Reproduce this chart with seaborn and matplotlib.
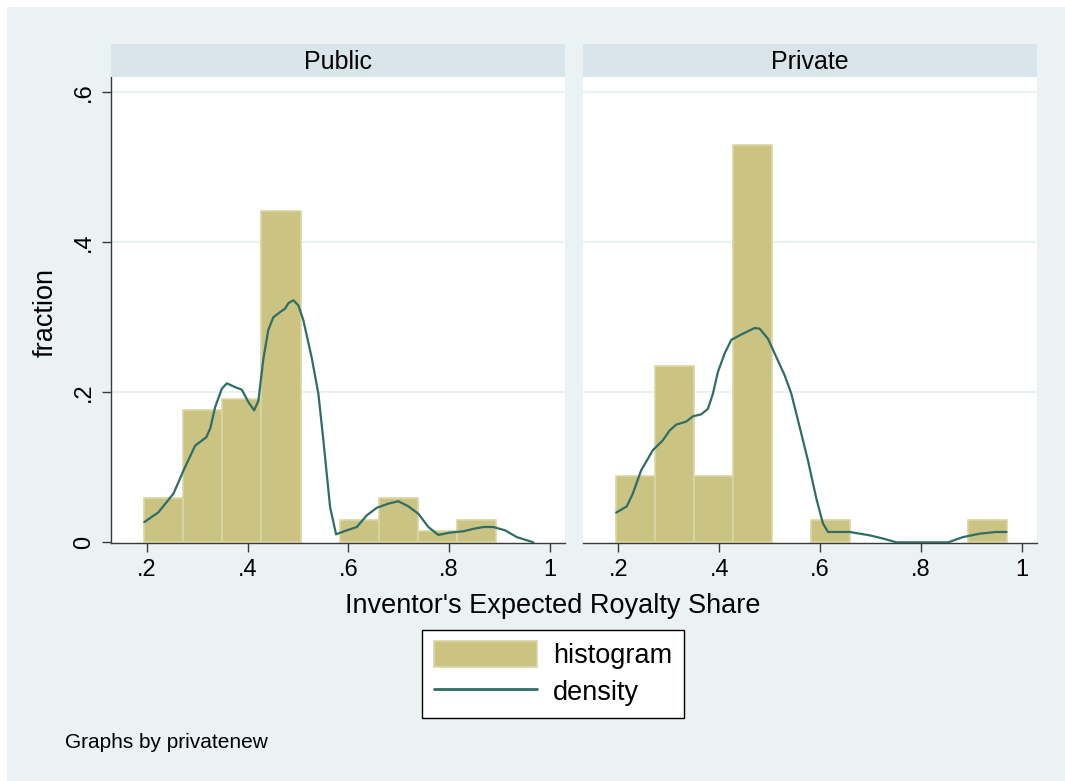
import numpy as np
import matplotlib
matplotlib.use("Agg")
import matplotlib.pyplot as plt
from matplotlib.patches import Rectangle
import seaborn as sns

# ---------------- data ----------------
panels = ["Public", "Private"]
bin_edges = [0.195, 0.2725, 0.35, 0.4275, 0.505, 0.5825, 0.66, 0.7375, 0.815, 0.8925, 0.97]
public_frac = [4/68, 12/68, 13/68, 30/68, 0, 2/68, 4/68, 1/68, 2/68, 0]
private_frac = [3/34, 8/34, 3/34, 18/34, 0, 1/34, 0, 0, 0, 1/34]

public_dens_x = [0.195, 0.223, 0.253, 0.273, 0.296, 0.318, 0.326, 0.3355, 0.349, 0.359, 0.375,
                 0.3885, 0.4016, 0.413, 0.4215, 0.431, 0.441, 0.451, 0.4645, 0.4744, 0.481,
                 0.491, 0.5008, 0.5107, 0.527, 0.5405, 0.5504, 0.5637, 0.5756, 0.5968, 0.6167,
                 0.6365, 0.6563, 0.6794, 0.6992, 0.719, 0.739, 0.7587, 0.7786, 0.8018, 0.8282,
                 0.848, 0.868, 0.8877, 0.911, 0.934, 0.967]
public_dens_y = [0.027, 0.040, 0.065, 0.096, 0.129, 0.140, 0.152, 0.180, 0.205, 0.212, 0.207,
                 0.2036, 0.187, 0.176, 0.189, 0.243, 0.283, 0.300, 0.307, 0.3116, 0.319,
                 0.3227, 0.316, 0.296, 0.247, 0.198, 0.136, 0.047, 0.0107, 0.016, 0.0204,
                 0.036, 0.046, 0.0516, 0.0547, 0.048, 0.038, 0.0204, 0.0098, 0.013, 0.0147,
                 0.018, 0.0204, 0.0204, 0.016, 0.007, 0.0]

private_dens_x = [0.1954, 0.2165, 0.2284, 0.245, 0.268, 0.288, 0.3013, 0.3146, 0.3345, 0.3476,
                  0.3643, 0.3774, 0.3873, 0.3972, 0.4105, 0.4238, 0.4403, 0.4536, 0.470, 0.480,
                  0.4965, 0.5132, 0.5297, 0.543, 0.5595, 0.576, 0.5927, 0.6058, 0.6157, 0.6588,
                  0.6985, 0.725, 0.7516, 0.854, 0.8838, 0.917, 0.950, 0.970]
private_dens_y = [0.0396, 0.048, 0.065, 0.096, 0.1227, 0.136, 0.149, 0.157, 0.161, 0.168,
                  0.1707, 0.178, 0.198, 0.227, 0.2516, 0.270, 0.276, 0.2804, 0.2857, 0.285,
                  0.2716, 0.247, 0.2227, 0.198, 0.1537, 0.109, 0.058, 0.025, 0.0138, 0.0138,
                  0.0093, 0.005, 0.0, 0.0, 0.007, 0.0116, 0.0138, 0.0138]

x_ticks = [0.2, 0.4, 0.6, 0.8, 1.0]
x_tick_labels = [".2", ".4", ".6", ".8", "1"]
y_ticks = [0.0, 0.2, 0.4, 0.6]
y_tick_labels = ["0", ".2", ".4", ".6"]

# ---------------- style ----------------
sns.set_style("white")
plt.rcParams["font.family"] = ["Liberation Sans", "DejaVu Sans"]
plt.rcParams["text.color"] = "black"
plt.rcParams["xtick.color"] = "#3A3A3A"
plt.rcParams["ytick.color"] = "#3A3A3A"
plt.rcParams["xtick.labelcolor"] = "black"
plt.rcParams["ytick.labelcolor"] = "black"

BG = "#EAF2F3"
STRIP = "#D8E5EA"
BAR = "#CAC382"
BAR_EDGE = "#DCD7A3"
LINE = "#2E6E66"
AX = "#3A3A3A"

W, H = 1065, 781
fig = plt.figure(figsize=(W / 100, H / 100), dpi=100, facecolor="white")
fig.add_artist(Rectangle((7 / W, 0), 1 - 7 / W, 1 - 7 / H, transform=fig.transFigure,
                         facecolor=BG, edgecolor="none", zorder=-10))

def px_box(x0, y0, x1, y1):
    return [x0 / W, 1 - y1 / H, (x1 - x0) / W, (y1 - y0) / H]

panel_px = [(111, 77, 565, 543), (582.7, 77, 1036.7, 543)]
fracs = [public_frac, private_frac]
dens = [(public_dens_x, public_dens_y), (private_dens_x, private_dens_y)]
centers = [(bin_edges[i] + bin_edges[i + 1]) / 2 for i in range(len(bin_edges) - 1)]

axes = []
line_handle = None
for i, (name, box) in enumerate(zip(panels, panel_px)):
    ax = fig.add_axes(px_box(*box))
    ax.set_facecolor("white")
    for y in y_ticks[1:]:
        ax.axhline(y, color=BG, lw=1.6, zorder=0)
    sns.histplot(x=centers, weights=fracs[i], bins=bin_edges, ax=ax, color=BAR,
                 edgecolor=BAR_EDGE, linewidth=1.2, alpha=1, zorder=2)
    for p in ax.patches:
        if p.get_height() <= 0:
            p.set_visible(False)
    n_before = len(ax.lines)
    sns.lineplot(x=dens[i][0], y=dens[i][1], ax=ax, color=LINE, lw=1.6,
                 sort=False, estimator=None, zorder=3)
    if line_handle is None:
        line_handle = ax.lines[n_before]
    ax.set_xlim(0.129, 1.0298)
    ax.set_ylim(-0.0009, 0.6205)
    ax.set_xlabel("")
    ax.set_ylabel("")
    ax.set_xticks(x_ticks)
    ax.set_xticklabels(x_tick_labels, fontsize=17)
    ax.tick_params(axis="x", length=6.5, width=1, color=AX, pad=5, direction="out", bottom=True)
    for s in ["top", "right"]:
        ax.spines[s].set_visible(False)
    ax.spines["bottom"].set_color(AX)
    ax.spines["bottom"].set_linewidth(1)
    if i == 0:
        ax.set_yticks(y_ticks)
        ax.set_yticklabels(y_tick_labels, fontsize=17, rotation=90, va="center")
        ax.tick_params(axis="y", length=6.5, width=1, color=AX, pad=5, direction="out", left=True)
        ax.spines["left"].set_color(AX)
        ax.spines["left"].set_linewidth(1)
    else:
        ax.set_yticks([])
        ax.spines["left"].set_visible(False)
    ax.grid(False)
    # strip
    sax = fig.add_axes(px_box(box[0], 43.7, box[2], 77.3))
    sax.set_facecolor(STRIP)
    sax.set_xticks([]); sax.set_yticks([])
    for s in sax.spines.values():
        s.set_visible(False)
    sax.text(0.5, 0.45, name, ha="center", va="center", fontsize=18, transform=sax.transAxes)
    axes.append(ax)

fig.text(46 / W, 1 - 313 / H, "fraction", rotation=90, ha="center", va="center", fontsize=19.5)
fig.text(553 / W, 1 - 606 / H, "Inventor's Expected Royalty Share", ha="center", va="center",
         fontsize=19.5)
fig.text(65 / W, 1 - 743 / H, "Graphs by privatenew", ha="left", va="center", fontsize=15)

bar_handle = axes[0].patches[0]
leg = fig.legend([bar_handle, line_handle], ["histogram", "density"], loc="center",
                 bbox_to_anchor=(553 / W, 1 - 673.7 / H), fontsize=19.5, frameon=True,
                 fancybox=False, edgecolor="black", facecolor="white", framealpha=1,
                 handlelength=3.8, handleheight=1.1, handletextpad=0.6, labelspacing=0.32,
                 borderpad=0.42, borderaxespad=0)
leg.get_frame().set_linewidth(1)
for h in leg.legend_handles:
    if hasattr(h, "set_linewidth") and h.__class__.__name__ == "Line2D":
        h.set_linewidth(2)

fig.savefig("out.png", dpi=100, facecolor="white")
